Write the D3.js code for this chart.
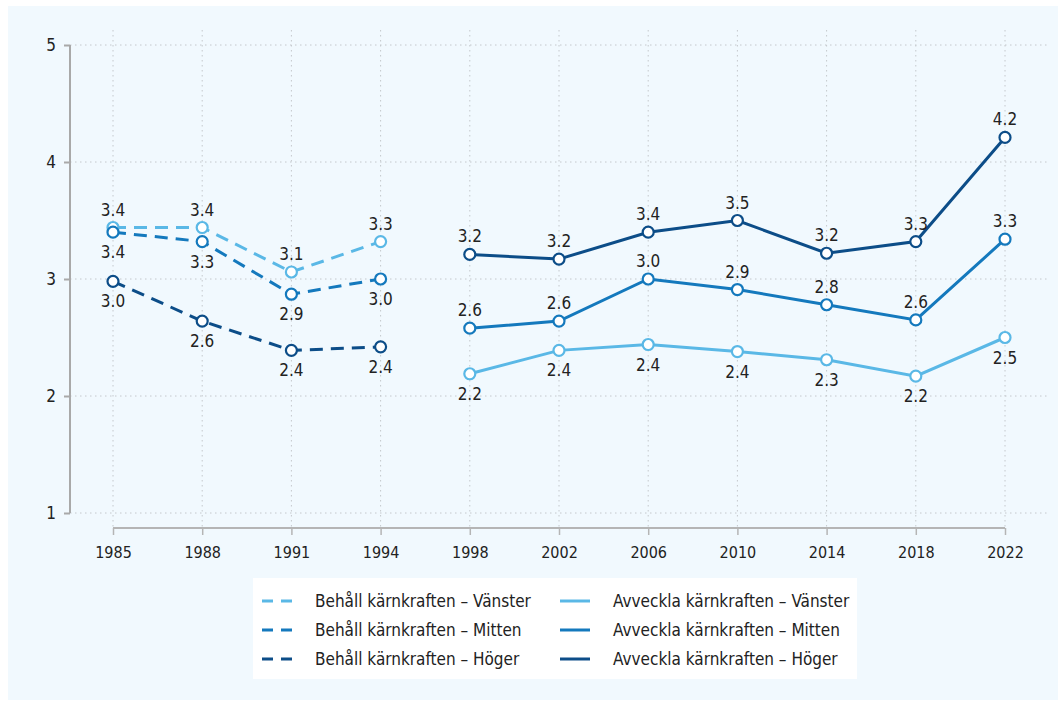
<!DOCTYPE html>
<html>
<head>
<meta charset="utf-8">
<script src="https://cdn.jsdelivr.net/npm/d3@7"></script>
<style>
  body { margin: 0; background: #ffffff; }
  svg text { font-family: "Liberation Sans Narrow", "DejaVu Sans Condensed", "Roboto", sans-serif; fill: #222; }
</style>
</head>
<body>
<div id="viz"></div>
<script>
// Årtal (kategorisk x-axel)
const artal = ["1985", "1988", "1991", "1994", "1998", "2002", "2006", "2010", "2014", "2018", "2022"];
const yTicks = [1, 2, 3, 4, 5];

// Behåll kärnkraften (1985–1994)
const behallVanster = [3.44, 3.44, 3.06, 3.32];
const behallMitten = [3.40, 3.32, 2.87, 3.00];
const behallHoger = [2.98, 2.64, 2.39, 2.42];
const behallArtal = ["1985", "1988", "1991", "1994"];

// Avveckla kärnkraften (1998–2022)
const avvecklaVanster = [2.19, 2.39, 2.44, 2.38, 2.31, 2.17, 2.50];
const avvecklaMitten = [2.58, 2.64, 3.00, 2.91, 2.78, 2.65, 3.34];
const avvecklaHoger = [3.21, 3.17, 3.40, 3.50, 3.22, 3.32, 4.21];
const avvecklaArtal = ["1998", "2002", "2006", "2010", "2014", "2018", "2022"];

const ljus = "#5ab8e6", mellan = "#1479bd", mork = "#0c4d88";

const serier = [
  { namn: "Behåll kärnkraften – Vänster", artal: behallArtal, varden: behallVanster, farg: ljus, streckad: true, etikett: "ovan" },
  { namn: "Behåll kärnkraften – Mitten", artal: behallArtal, varden: behallMitten, farg: mellan, streckad: true, etikett: "under" },
  { namn: "Behåll kärnkraften – Höger", artal: behallArtal, varden: behallHoger, farg: mork, streckad: true, etikett: "under" },
  { namn: "Avveckla kärnkraften – Vänster", artal: avvecklaArtal, varden: avvecklaVanster, farg: ljus, streckad: false, etikett: "under" },
  { namn: "Avveckla kärnkraften – Mitten", artal: avvecklaArtal, varden: avvecklaMitten, farg: mellan, streckad: false, etikett: "ovan" },
  { namn: "Avveckla kärnkraften – Höger", artal: avvecklaArtal, varden: avvecklaHoger, farg: mork, streckad: false, etikett: "ovan" }
];

const width = 1058, height = 706;
const svg = d3.select('#viz').append('svg').attr('width', width).attr('height', height);

// Bakgrundspanel
svg.append('rect').attr('x', 8).attr('y', 6).attr('width', 1050).attr('height', 694).attr('fill', '#f1f9fe');

const x = d3.scalePoint().domain(artal).range([113, 1005]);
const y = d3.scaleLinear().domain([1, 5]).range([513, 45]);

// Rutnät
const grid = svg.append('g');
grid.selectAll('.vg').data(artal).enter().append('line')
  .attr('x1', d => x(d)).attr('x2', d => x(d)).attr('y1', 30).attr('y2', 528)
  .attr('stroke', '#c4c8cc').attr('stroke-width', 1).attr('stroke-dasharray', '1.5,3.5');
grid.selectAll('.hg').data(yTicks).enter().append('line')
  .attr('x1', 70).attr('x2', 1048).attr('y1', d => y(d)).attr('y2', d => y(d))
  .attr('stroke', '#c4c8cc').attr('stroke-width', 1).attr('stroke-dasharray', '1.5,3.5');

// Y-axel
const yAxis = svg.append('g').attr('transform', 'translate(70,0)')
  .call(d3.axisLeft(y).tickValues(yTicks).tickSize(6).tickPadding(8).tickFormat(d3.format('d')));
yAxis.select('.domain').attr('stroke', '#a9a9a9').attr('stroke-width', 2).attr('d', `M0,${y(5)}V${y(1)}`);
yAxis.selectAll('.tick line').attr('stroke', '#a9a9a9').attr('stroke-width', 2);
yAxis.selectAll('.tick text').attr('font-size', 17).attr('font-family', null);

// X-axel
const xAxis = svg.append('g').attr('transform', 'translate(0,528)')
  .call(d3.axisBottom(x).tickSize(7).tickPadding(12));
xAxis.select('.domain').attr('stroke', '#b5b5b5').attr('stroke-width', 2).attr('d', `M${x('1985')},0H${x('2022')}`);
xAxis.selectAll('.tick line').attr('stroke', '#b5b5b5').attr('stroke-width', 1.5);
xAxis.selectAll('.tick text').attr('font-size', 16).attr('font-family', null);

// Linjer, punkter och etiketter
const linje = d3.line().x(d => x(d.ar)).y(d => y(d.v));
serier.forEach(s => {
  const pts = s.artal.map((ar, i) => ({ ar, v: s.varden[i] }));
  svg.append('path').datum(pts)
    .attr('d', linje).attr('fill', 'none').attr('stroke', s.farg).attr('stroke-width', 3)
    .attr('stroke-dasharray', s.streckad ? '13,8' : null);
  svg.selectAll(null).data(pts).enter().append('circle')
    .attr('cx', d => x(d.ar)).attr('cy', d => y(d.v)).attr('r', 5.5)
    .attr('fill', '#ffffff').attr('stroke', s.farg).attr('stroke-width', 2.2);
  svg.selectAll(null).data(pts).enter().append('text')
    .attr('x', d => x(d.ar)).attr('y', d => y(d.v) + (s.etikett === 'ovan' ? -12 : 26))
    .attr('text-anchor', 'middle').attr('font-size', 17)
    .text(d => d.v.toFixed(1));
});

// Legend
const leg = svg.append('g');
leg.append('rect').attr('x', 253).attr('y', 578).attr('width', 604).attr('height', 101).attr('fill', '#ffffff');
serier.forEach((s, i) => {
  const kol = i < 3 ? 0 : 1, rad = i % 3;
  const lx = 262 + kol * 298, ly = 601 + rad * 29;
  leg.append('line').attr('x1', lx).attr('x2', lx + 30).attr('y1', ly).attr('y2', ly)
    .attr('stroke', s.farg).attr('stroke-width', 3).attr('stroke-dasharray', s.streckad ? '11,8' : null);
  leg.append('text').attr('x', lx + 53).attr('y', ly + 6).attr('font-size', 17).text(s.namn);
});
</script>
</body>
</html>
